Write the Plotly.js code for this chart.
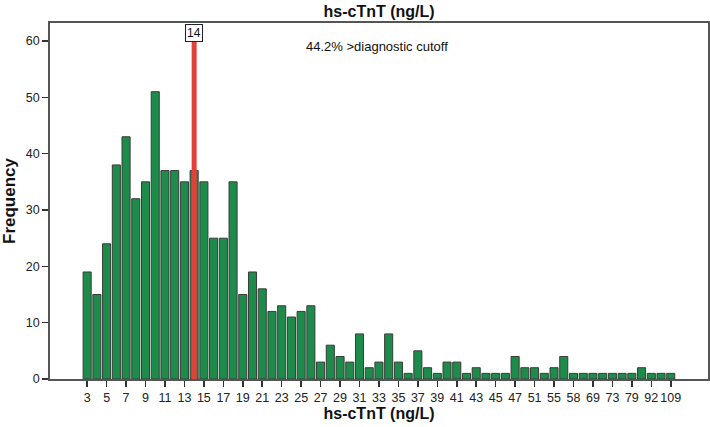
<!DOCTYPE html>
<html>
<head>
<meta charset="utf-8">
<script src="https://cdn.plot.ly/plotly-3.0.1.min.js"></script>
<style>html,body{margin:0;padding:0;background:#fff;}#chart{width:710px;height:427px;}</style>
</head>
<body>
<div id="chart"></div>
<script>
// hs-cTnT values (ng/L), one bar each
var categories = ["3","4","5","6","7","8","9","10","11","12","13","14","15","16","17","18","19","20","21","22","23","24","25","26","27","28","29","30","31","32","33","34","35","36","37","38","39","40","41","42","43","44","45","46","47","49","51","53","55","56","58","63","69","71","73","76","79","85","92","100","109"];
var frequency = [19,15,24,38,43,32,35,51,37,37,35,37,35,25,25,35,15,19,16,12,13,11,12,13,3,6,4,3,8,2,3,8,3,1,5,2,1,3,3,1,2,1,1,1,4,2,2,1,2,4,1,1,1,1,1,1,1,2,1,1,1];
var tickLabels = ["3","5","7","9","11","13","15","17","19","21","23","25","27","29","31","33","35","37","39","41","43","45","47","51","55","58","69","73","79","92","109"];
var cutoff = "14";
var cutoffLabel = "14";
var cutoffText = "44.2% >diagnostic cutoff";

var font = "Liberation Sans, Arial, sans-serif";
var cutoffIndex = categories.indexOf(cutoff);
var traces = [
  {
    type: "bar",
    x: categories,
    y: frequency,
    marker: {color: "#1d8c4a", line: {color: "#3a3a3a", width: 1}},
    hoverinfo: "x+y"
  },
  {
    type: "scatter",
    mode: "lines",
    x: [cutoff, cutoff],
    y: [0, 59.9],
    line: {color: "#e2413a", width: 5},
    hoverinfo: "skip"
  }
];

var layout = {
  width: 710,
  height: 427,
  margin: {l: 50, r: 2, t: 23, b: 48},
  paper_bgcolor: "#fff",
  plot_bgcolor: "#fff",
  showlegend: false,
  bargap: 0.17,
  font: {family: font, size: 12, color: "#222"},
  title: {
    text: "<b>hs-cTnT (ng/L)</b>",
    font: {family: font, size: 16, color: "#111"},
    x: 0.534, xanchor: "center",
    y: 1 - 11/427, yanchor: "middle", yref: "container"
  },
  xaxis: {
    type: "category",
    range: [-3.82, 63.83],
    tickmode: "array",
    tickvals: tickLabels,
    ticktext: tickLabels,
    tickangle: 0,
    ticks: "outside",
    ticklen: 6,
    tickwidth: 1.5,
    tickcolor: "#333",
    tickfont: {family: font, size: 12.5, color: "#222"},
    showgrid: false,
    zeroline: false,
    showline: true,
    linecolor: "#555",
    linewidth: 1.8,
    mirror: true,
    automargin: false,
    title: {text: "<b>hs-cTnT (ng/L)</b>", font: {family: font, size: 16, color: "#111"}, standoff: 4}
  },
  yaxis: {
    range: [0, 63.2],
    tickvals: [0, 10, 20, 30, 40, 50, 60],
    ticks: "outside",
    ticklen: 6,
    tickwidth: 1.5,
    tickcolor: "#333",
    tickfont: {family: font, size: 12.5, color: "#222"},
    showgrid: false,
    zeroline: false,
    showline: true,
    linecolor: "#555",
    linewidth: 1.8,
    mirror: true,
    automargin: false,
    title: {text: "<b>Frequency</b>", font: {family: font, size: 17, color: "#111"}, standoff: 6}
  },
  annotations: [
    {
      x: cutoffIndex, y: 61.5, xref: "x", yref: "y",
      text: cutoffLabel, showarrow: false,
      font: {family: font, size: 12, color: "#111"},
      bgcolor: "#fff", bordercolor: "#222", borderwidth: 1, borderpad: 1
    },
    {
      x: 0.497, y: 1 - 24/356, xref: "paper", yref: "paper",
      text: cutoffText, showarrow: false, xanchor: "center", yanchor: "middle",
      font: {family: font, size: 13, color: "#111"}
    }
  ]
};

Plotly.newPlot("chart", traces, layout, {displayModeBar: false, staticPlot: true});
</script>
</body>
</html>
